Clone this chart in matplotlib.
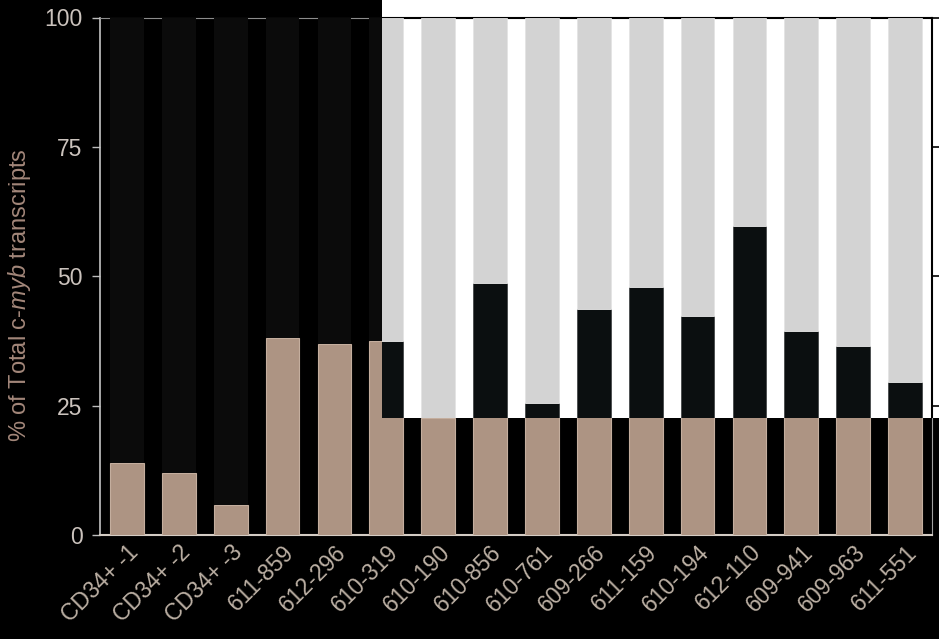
import numpy as np
import matplotlib.pyplot as plt
from matplotlib.patches import Rectangle

plt.rcParams['font.family'] = ['Liberation Sans', 'DejaVu Sans']
plt.rcParams['mathtext.fontset'] = 'custom'
plt.rcParams['mathtext.rm'] = 'Liberation Sans'
plt.rcParams['mathtext.it'] = 'Liberation Sans:italic'

# datos
muestras = ['CD34+ -1', 'CD34+ -2', 'CD34+ -3', '611-859', '612-296', '610-319',
            '610-190', '610-856', '610-761', '609-266', '611-159', '610-194',
            '612-110', '609-941', '609-963', '611-551']
pct_myb = [13.9, 12.0, 5.8, 38.0, 36.9, 37.4, 22.6, 48.7, 25.5, 43.6, 47.9, 42.4,
           59.8, 39.5, 36.6, 29.5]
pct_resto = [100 - v for v in pct_myb]
y_ticks = [0, 25, 50, 75, 100]

x = np.arange(len(muestras))
ancho = 0.65

fig = plt.figure(figsize=(9.39, 6.39), dpi=100, facecolor='black')
pos = [100 / 939, 104 / 639, 832 / 939, 517.5 / 639]

# grafico "invertido" (fondo negro)
ax = fig.add_axes(pos, facecolor='black', zorder=0)
ax.bar(x, pct_myb, width=ancho, color='#ad9483', edgecolor='#c4ae9e', linewidth=0.8, zorder=3)
ax.bar(x, pct_resto, bottom=pct_myb, width=ancho, color='#0b0b0b', linewidth=0, zorder=3)
ax.set_xlim(-0.52, 15.52)
ax.set_ylim(0, 100)
ax.set_yticks(y_ticks)
ax.tick_params(axis='y', direction='out', length=6, width=1, color='#bdbdbd',
               labelcolor='#cbc3bd', labelsize=16.5, pad=6.5)
ax.set_xticks(x)
ax.set_xticklabels(muestras, rotation=45, ha='right', va='top', rotation_mode='anchor',
                   fontsize=16.5, color='#bcb0a4')
ax.tick_params(axis='x', length=0, pad=4)
ax.spines['left'].set_color('#c4c4c4')
ax.spines['left'].set_linewidth(1.2)
ax.spines['bottom'].set_color('#d4ccc4')
ax.spines['bottom'].set_linewidth(1.5)
ax.spines['top'].set_color('#8c8c8c')
ax.spines['right'].set_color('#a0a0a0')
ax.set_ylabel(r'% of Total c-$\mathit{myb}$ transcripts', fontsize=17, color='#a3877a')
ax.yaxis.set_label_coords(-0.081, 0.463)

# zona sin invertir (arriba a la derecha)
x0, y0 = 381.7 / 939, (639 - 418) / 639
recorte = Rectangle((x0, y0), 1 - x0, 1 - y0, transform=fig.transFigure)
fondo = Rectangle((x0, y0), 1 - x0, 1 - y0, transform=fig.transFigure,
                  facecolor='white', edgecolor='none', zorder=1)
fig.add_artist(fondo)

ax2 = fig.add_axes(pos, zorder=2)
ax2.patch.set_visible(False)
b1 = ax2.bar(x, pct_myb, width=ancho, color='#0b0f10', edgecolor='#45494a', linewidth=0.6, zorder=3)
b2 = ax2.bar(x, pct_resto, bottom=pct_myb, width=ancho, color='#d3d3d3',
             edgecolor='#e4e4e4', linewidth=0.6, zorder=3)
for p in list(b1.patches) + list(b2.patches):
    p.set_clip_path(recorte)
ax2.set_xlim(-0.52, 15.52)
ax2.set_ylim(0, 100)
ax2.set_xticks([])
ax2.set_yticks(y_ticks[1:])
ax2.yaxis.tick_right()
ax2.tick_params(axis='y', direction='out', length=6, width=1.2, color='black',
                labelright=False, labelleft=False)
ax2.spines['left'].set_visible(False)
ax2.spines['bottom'].set_visible(False)
for s in ['top', 'right']:
    ax2.spines[s].set_color('black')
    ax2.spines[s].set_linewidth(1.5)
    ax2.spines[s].set_clip_path(recorte)

fig.savefig('out.png', dpi=100, facecolor='black')
